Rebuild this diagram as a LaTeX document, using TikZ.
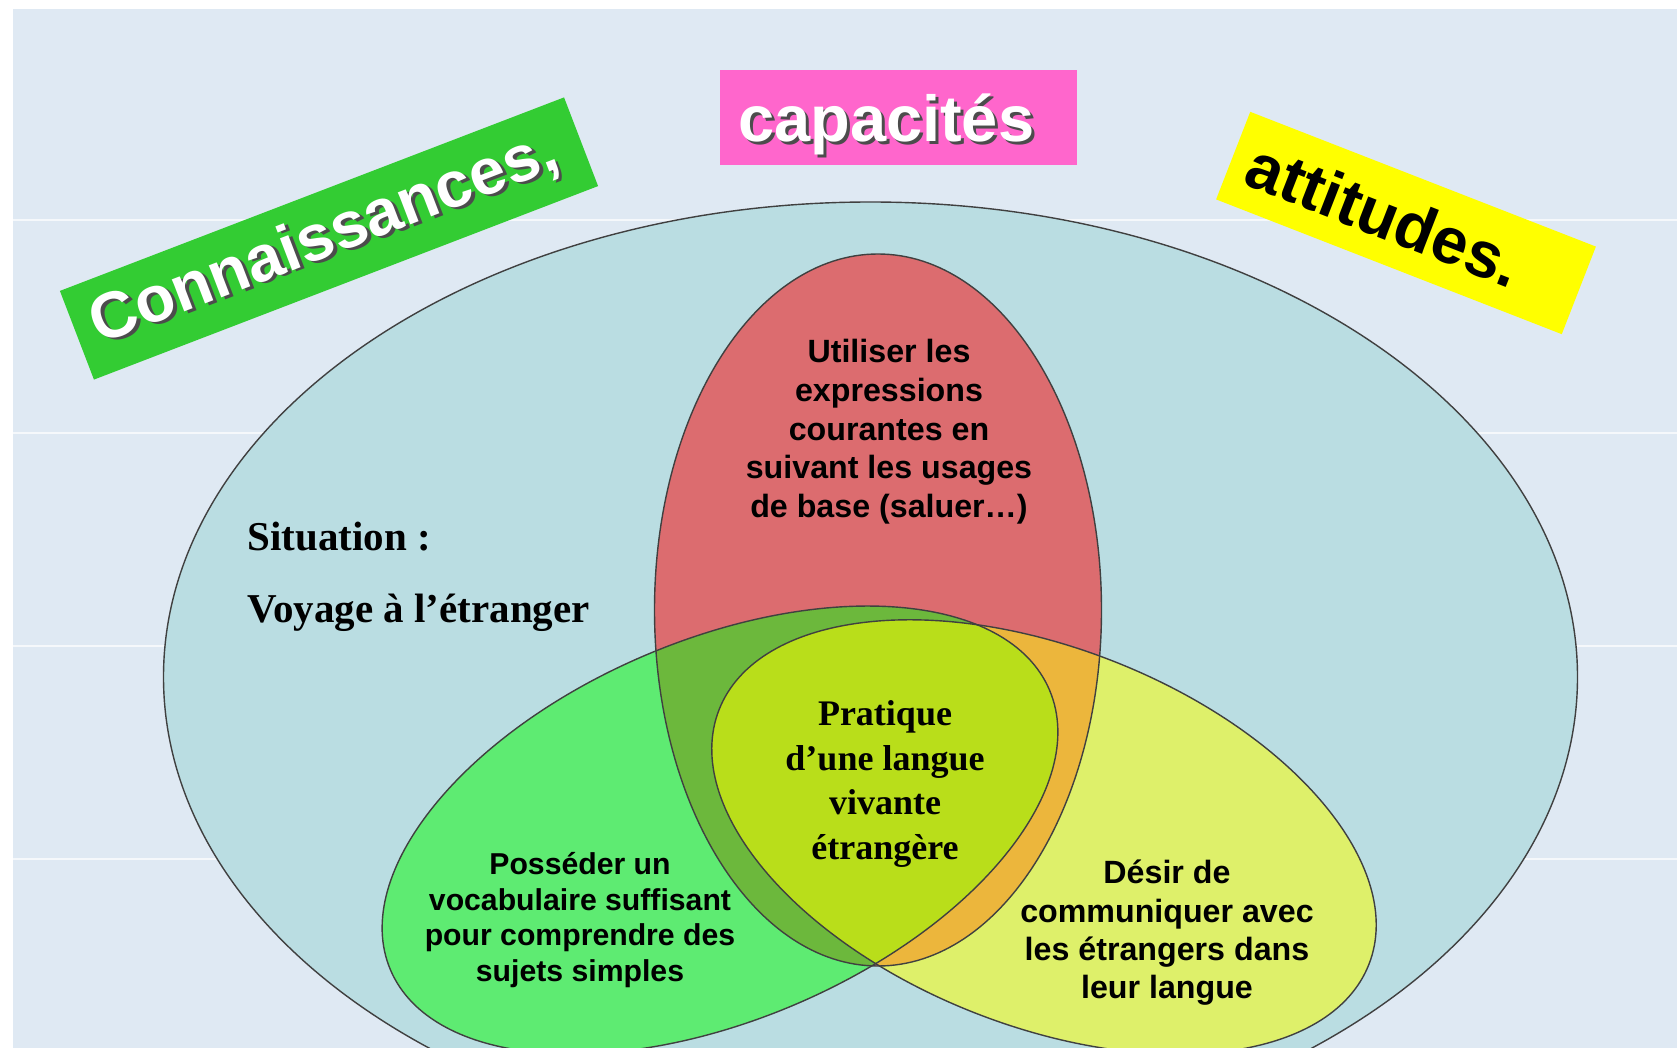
\documentclass[tikz,border=0pt]{standalone}
\usepackage{fontspec}
\setmainfont{Liberation Sans}
\newfontfamily\timesbold{Liberation Serif}
\usetikzlibrary{positioning}
\definecolor{slide}{HTML}{DFE9F3}
\definecolor{outerzone}{HTML}{BADDE2}
\definecolor{redzone}{HTML}{DC6C6F}
\definecolor{greenzone}{HTML}{5EEB72}
\definecolor{yellowzone}{HTML}{DEF06A}
\definecolor{redgreen}{HTML}{6CB83C}
\definecolor{redyellow}{HTML}{ECB63C}
\definecolor{middlezone}{HTML}{B9DE1A}
\definecolor{greentag}{HTML}{33CC33}
\definecolor{pinktag}{HTML}{FF66CC}
\definecolor{yellowtag}{HTML}{FFFF00}
\newcommand{\shadowed}[2]{\leavevmode\rlap{\kern1.5pt\raisebox{-1.5pt}{\textcolor{#2}{#1}}}#1}
\newcommand{\zonered}{(878,610) ellipse [x radius=223.5, y radius=356]}
\newcommand{\zonegreen}{(720,830) ellipse [x radius=358, y radius=190]}
\newcommand{\zoneyellow}{(1044,837) ellipse [x radius=349, y radius=189]}
\tikzset{
tag/.style={inner xsep=9pt, inner ysep=0pt, minimum height=47.5pt, align=left, font=\fontsize{32.5}{36}\selectfont\bfseries},
sanslabel/.style={align=center, inner sep=0pt, font=\fontsize{16.1}{19.4}\selectfont\bfseries},
seriflabel/.style={inner sep=0pt, font=\timesbold\fontsize{20.5}{24}\selectfont\bfseries},
zoneline/.style={draw=black!75, line width=0.7pt},
tiltgreen/.style={rotate around={23:(720,830)}}, tiltyellow/.style={rotate around={-21.4:(1044,837)}}}

\begin{document}
\begin{tikzpicture}[x=0.5pt, y=-0.5pt]
\useasboundingbox (0,0) rectangle (1677,1048);
\clip (0,0) rectangle (1677,1048);
\fill[white] (0,0) rectangle (1677,1048);
\fill[slide] (13,9) rectangle (1677,1048);
\foreach \y in {220, 433, 646, 859}
      \draw[white, opacity=0.7, line width=0.8pt] (13,\y) -- (1677,\y);
\filldraw[fill=outerzone, zoneline] (870.5,677) ellipse [x radius=707, y radius=475];
\fill[redzone] \zonered;
\fill[greenzone, tiltgreen] \zonegreen;
\fill[yellowzone, tiltyellow] \zoneyellow;
\begin{scope}
      \clip \zonered;
      \fill[redgreen, tiltgreen] \zonegreen;
      \fill[redyellow, tiltyellow] \zoneyellow;
\end{scope}
\begin{scope}
      \clip[tiltgreen] \zonegreen;
      \fill[middlezone, tiltyellow] \zoneyellow;
\end{scope}
\draw[zoneline] \zonered;
\draw[zoneline, tiltgreen] \zonegreen;
\draw[zoneline, tiltyellow] \zoneyellow;

\node[tag, fill=greentag, text=white, rotate=21, text width=252pt] (know) at (329,238.5) {\shadowed{Connaissances,}{black!70}};
\node[tag, fill=pinktag, text=white, text width=160.5pt, text height=24pt, text depth=0pt] (skill) at (898.5,117.5) {\shadowed{capacités}{black!70}};
\node[tag, fill=yellowtag, text=black, rotate=-21.3, text width=167.5pt, minimum height=47pt] (attitude) at (1406,223) {attitudes.};

\node[seriflabel, anchor=base west] (situation) at (247,550) {Situation :};
\node[seriflabel, anchor=base west] (voyage) at (247,622) {Voyage à l’étranger};
\node[sanslabel] (usage) at (889,431.7) {Utiliser les\\expressions\\courantes en\\suivant les usages\\de base (saluer…)};
\node[sanslabel, font=\fontsize{15.1}{17.8}\selectfont\bfseries] (vocab) at (580,920) {Posséder un\\vocabulaire suffisant\\pour comprendre des\\sujets simples};
\node[sanslabel, font=\fontsize{16.1}{19.15}\selectfont\bfseries] (desir) at (1167,933) {Désir de\\communiquer avec\\les étrangers dans\\leur langue};
\node[seriflabel, align=center, font=\timesbold\fontsize{18}{22.35}\selectfont\bfseries] (pratique) at (885,784) {Pratique\\d’une langue\\vivante\\étrangère};
\end{tikzpicture}
\end{document}
